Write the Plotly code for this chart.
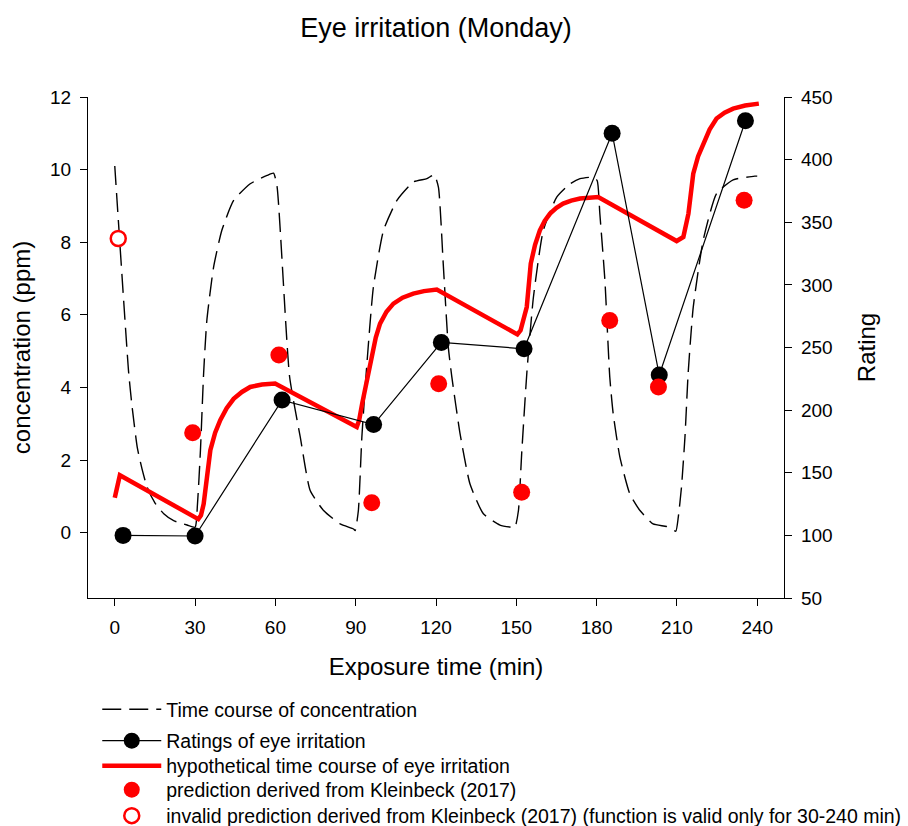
import plotly.graph_objects as go

# Concentration time course (ppm, left axis)
conc_t = [0, 5.2, 6.5, 8.4, 10.2, 12.1, 15.0, 18.3, 22.0, 27.0, 30.0,
          30.9, 32.0, 33.2, 34.4, 36.9, 40.0, 44.4, 50.6, 56.9, 59.3, 60.6,
          65.3, 69.3, 73.0, 78.0, 84.2, 89.2, 89.8,
          91.0, 92.3, 94.0, 96.6, 100.4, 105.4, 111.6, 116.6, 119.3, 120.9,
          122.7, 124.6, 125.9, 129.0, 132.7, 137.7, 143.9, 148.3, 149.5,
          150.8, 152.0, 154.0, 156.4, 160.1, 165.1, 170.1, 173.8, 178.7, 180.2,
          181.2, 183.1, 184.9, 186.2, 188.7, 192.4, 196.2, 201.1, 206.1, 208.0, 209.6,
          210.5, 211.7, 213.0, 214.2, 216.1, 219.8, 224.8, 231.0, 239.1, 240.0]
conc_ppm = [10.1, 4.4, 3.45, 2.35, 1.75, 1.25, 0.82, 0.52, 0.33, 0.21, 0.15,
            0.79, 2.26, 4.4, 5.85, 7.31, 8.33, 9.15, 9.61, 9.84, 9.9, 9.55,
            4.3, 2.63, 1.16, 0.61, 0.24, 0.1, 0.06,
            0.61, 2.63, 4.47, 6.76, 8.33, 9.15, 9.66, 9.75, 9.86, 9.52,
            7.41, 5.11, 4.3, 2.72, 1.34, 0.52, 0.21, 0.15, 0.15,
            0.61, 2.17, 4.47, 6.49, 8.33, 9.24, 9.61, 9.75, 9.79, 9.7,
            8.79, 6.95, 4.3, 3.27, 2.08, 1.07, 0.61, 0.24, 0.17, 0.1, 0.04,
            0.42, 1.25, 2.63, 4.4, 6.21, 8.05, 9.34, 9.72, 9.82, 9.82]

# Mean ratings of eye irritation (right axis)
rating_t = [3.1, 30.0, 62.5, 96.7, 122.0, 152.9, 185.8, 203.4, 235.6]
rating = [100, 99.5, 208, 188.5, 254, 249, 421, 228, 431]

# Hypothetical time course of eye irritation (right axis)
hypo_t = [0, 1.9, 31.2, 32.2, 33.2, 35.7, 37.5, 39.4, 41.8, 44.4, 47.5, 50.6, 55.0, 59.9,
          90.4, 91.3, 92.4, 94.4, 96.0, 97.5, 99.1, 101.5, 104.1, 107.5, 111.5, 115.5, 120.3,
          150.4, 151.6, 153.9, 155.4, 157.0, 158.8, 160.6, 162.6, 165.0, 167.5, 170.5, 173.8, 177.0, 180.6,
          209.9, 212.4, 214.3, 216.1, 217.9, 219.9, 222.2, 224.8, 227.8, 231.0, 235.5, 240.6]
hypo_rating = [130, 148, 113, 116, 125, 168, 182, 192, 201.5, 209, 214.5, 218.5, 220.5, 221.2,
               186.5, 192, 205, 226.4, 245, 258, 269, 278.5, 285, 289.8, 293, 295, 296.2,
               260.5, 263.7, 282.3, 317, 332, 343.6, 351, 356.9, 361.5, 364.9, 367.3, 368.9, 369.8, 370.2,
               335, 338.2, 356.9, 388.8, 402.5, 412.8, 424, 432.8, 437.5, 440.7, 443.2, 444.7]

# Predictions derived from Kleinbeck (2017)
pred_t = [29.1, 61.3, 96.0, 121.0, 152.0, 184.9, 203.1, 235.1]
pred_rating = [182, 244, 126, 221, 134.5, 271.5, 218.5, 367.5]

# Prediction outside the valid range of the function
invalid_t = [1.3]
invalid_rating = [337]

x_ticks = [0, 30, 60, 90, 120, 150, 180, 210, 240]
y_ticks = [0, 2, 4, 6, 8, 10, 12]
y2_ticks = [50, 100, 150, 200, 250, 300, 350, 400, 450]

FONT = "Liberation Sans, Arial, sans-serif"
RED = "#ff0000"

fig = go.Figure()

fig.add_trace(go.Scatter(
    x=conc_t, y=conc_ppm, mode="lines", name="Time course of concentration",
    line=dict(color="black", width=1.4, dash="19px,8px", shape="spline", smoothing=0.5),
    legend="legend", yaxis="y"))

fig.add_trace(go.Scatter(
    x=hypo_t, y=hypo_rating, mode="lines",
    name="hypothetical time course of eye irritation",
    line=dict(color=RED, width=4.5), legend="legend3", yaxis="y2"))

fig.add_trace(go.Scatter(
    x=rating_t, y=rating, mode="lines+markers", name="Ratings of eye irritation",
    line=dict(color="black", width=1.2),
    marker=dict(color="black", size=17, line=dict(width=0)),
    legend="legend2", yaxis="y2"))

fig.add_trace(go.Scatter(
    x=pred_t, y=pred_rating, mode="markers",
    name="prediction derived from Kleinbeck (2017)",
    marker=dict(color=RED, size=17, line=dict(width=0)),
    legend="legend4", yaxis="y2"))

fig.add_trace(go.Scatter(
    x=invalid_t, y=invalid_rating, mode="markers",
    name="invalid prediction derived from Kleinbeck (2017) (function is valid only for 30-240 min)",
    marker=dict(color="white", size=15, line=dict(color=RED, width=2.5)),
    legend="legend5", yaxis="y2"))

# legend rows sit below the plot area (paper units, plot height 501 px)
legend_y = {"legend": -0.2226, "legend2": -0.2854, "legend3": -0.3353,
            "legend4": -0.3832, "legend5": -0.4351}
legend_common = dict(x=0.0133, xanchor="left", yanchor="middle",
                     font=dict(family=FONT, size=19.5, color="black"),
                     bgcolor="rgba(0,0,0,0)", itemwidth=59)

axis_common = dict(showline=True, linecolor="black", linewidth=1.3,
                   ticks="outside", ticklen=7, tickwidth=1.3, tickcolor="black",
                   ticklabelstandoff=5,
                   showgrid=False, zeroline=False,
                   tickfont=dict(family=FONT, size=19, color="black"))

layout = dict(
    width=908, height=826,
    margin=dict(l=88, r=124, t=97, b=228, autoexpand=False),
    paper_bgcolor="white", plot_bgcolor="white",
    font=dict(family=FONT, color="black"),
    title=dict(text="Eye irritation (Monday)", x=0.5, xref="paper",
               xanchor="center", y=1 - 28 / 826, yanchor="middle",
               font=dict(family=FONT, size=27, color="black")),
    xaxis=dict(range=[-10, 250], tickvals=x_ticks,
               title=dict(text="Exposure time (min)", standoff=21,
                          font=dict(family=FONT, size=24, color="black")),
               **axis_common),
    yaxis=dict(range=[-1.8, 12], tickvals=y_ticks,
               title=dict(text="concentration (ppm)", standoff=12,
                          font=dict(family=FONT, size=24, color="black")),
               **axis_common),
    yaxis2=dict(range=[50, 450], tickvals=y2_ticks, overlaying="y", side="right",
                title=dict(text="Rating", standoff=26,
                           font=dict(family=FONT, size=24, color="black")),
                **axis_common),
    showlegend=True,
)
for name, yv in legend_y.items():
    layout[name] = dict(y=yv, **legend_common)

fig.update_layout(**layout)
fig.write_html("out.html")
